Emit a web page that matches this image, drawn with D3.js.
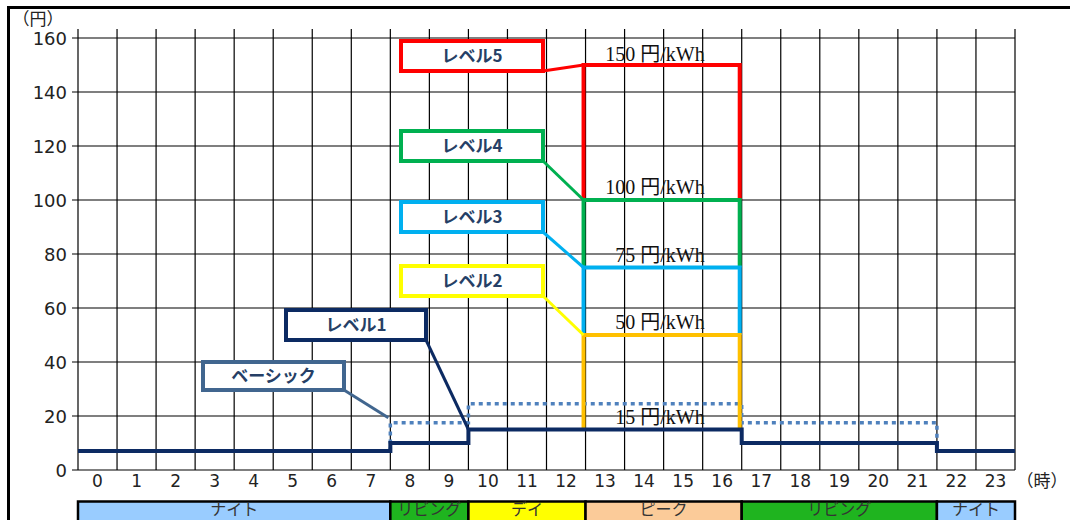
<!DOCTYPE html>
<html>
<head>
<meta charset="utf-8">
<script src="https://cdn.jsdelivr.net/npm/d3@7"></script>
<style>
  body { margin: 0; background: #fff; }
  svg { display: block; }
</style>
</head>
<body>
<svg id="chart" width="1070" height="520"></svg>
<script>
// ---- data ----
const hourLabels = ["0","1","2","3","4","5","6","7","8","9","10","11","12","13","14","15","16","17","18","19","20","21","22","23"];
// price per hour (円/kWh)
const basicPrice  = [7,7,7,7,7,7,7,7, 17.5,17.5, 24.5,24.5,24.5,24.5,24.5,24.5,24.5, 17.5,17.5,17.5,17.5,17.5, 7,7];
const level1Price = [7,7,7,7,7,7,7,7, 10,10, 15,15,15,15,15,15,15, 10,10,10,10,10, 7,7];
// peak-time prices for levels 2..5 (hours 13-16)
const levelNames  = ["レベル2","レベル3","レベル4","レベル5"];
const levelPrices = [50, 75, 100, 150];
const levelFrom   = [15, 50, 75, 100];
const peakHours   = [13, 17];
const priceLabels = [15, 50, 75, 100, 150];
const yTicks = [0, 20, 40, 60, 80, 100, 120, 140, 160];
const periodNames  = ["ナイト", "リビング", "デイ", "ピーク", "リビング", "ナイト"];
const periodStarts = [0, 8, 10, 13, 17, 22];
const periodEnds   = [8, 10, 13, 17, 22, 24];

// ---- styles ----
const periodColors = ["#99CCFF", "#1FB41F", "#FFFF00", "#FBCB99", "#1FB41F", "#99CCFF"];
const levelLineColors = ["#FFC000", "#00B0F0", "#00B050", "#FF0000"];
const levelBoxColors  = ["#FFFF00", "#00B0F0", "#00B050", "#FF0000"];
const navy = "#0C2A62";
const basicBlue = "#4F81BD";
const basicBox = "#41668F";
const labelText = "#263F66";
const gothic = "'Noto Sans CJK JP', 'Noto Sans', sans-serif";
const serif = "'Liberation Serif', 'Noto Sans CJK JP', serif";

const svg = d3.select("#chart");

// outer frame (continues past the right and bottom edges)
svg.append("rect")
  .attr("x", 8.5).attr("y", 7.5).attr("width", 1100).attr("height", 560)
  .attr("fill", "none").attr("stroke", "#000").attr("stroke-width", 3);

const x = d3.scaleLinear().domain([0, 24]).range([78, 1015]);
const y = d3.scaleLinear().domain([0, 160]).range([470, 38]);
const yTop = y(163.3);

// ---- grid ----
const grid = svg.append("g").attr("stroke", "#000").attr("stroke-width", 1.2);
grid.selectAll("line.v").data(d3.range(25)).join("line")
  .attr("class", "v")
  .attr("x1", d => x(d)).attr("x2", d => x(d))
  .attr("y1", yTop).attr("y2", y(0));
grid.selectAll("line.h").data(yTicks).join("line")
  .attr("class", "h")
  .attr("x1", x(0) - 6).attr("x2", x(24))
  .attr("y1", d => y(d)).attr("y2", d => y(d));

// y tick labels
svg.append("g").selectAll("text").data(yTicks).join("text")
  .attr("x", 67).attr("y", d => y(d) + 7)
  .attr("text-anchor", "end")
  .attr("font-family", "'DejaVu Sans', sans-serif").attr("font-size", 18)
  .attr("fill", "#222")
  .text(d => d);

// x tick labels
svg.append("g").selectAll("text").data(hourLabels).join("text")
  .attr("x", (d, i) => x(i + 0.5)).attr("y", 487)
  .attr("text-anchor", "middle")
  .attr("font-family", "'DejaVu Sans', sans-serif").attr("font-size", 17)
  .attr("fill", "#222")
  .text(d => d);

// unit labels
svg.append("text").attr("x", 38).attr("y", 25).attr("text-anchor", "middle")
  .attr("font-family", gothic).attr("font-size", 17).attr("fill", "#222").text("（円）");
svg.append("text").attr("x", 1042).attr("y", 487).attr("text-anchor", "middle")
  .attr("font-family", gothic).attr("font-size", 17).attr("fill", "#222").text("（時）");

// ---- price lines ----
const stepLine = d3.line()
  .x(d => x(d[0])).y(d => y(d[1]))
  .curve(d3.curveStepAfter);
const stepPoints = arr => arr.map((v, i) => [i, v]).concat([[arr.length, arr[arr.length - 1]]]);

svg.append("path")
  .attr("d", stepLine(stepPoints(basicPrice)))
  .attr("fill", "none").attr("stroke", basicBlue)
  .attr("stroke-width", 3.5).attr("stroke-dasharray", "4,4");

// peak-level brackets, drawn from the top level down
const inset = 2;
levelPrices.map((p, i) => i).reverse().forEach(i => {
  const x0 = x(peakHours[0]) - inset, x1 = x(peakHours[1]) - inset;
  const p = d3.path();
  p.moveTo(x0, y(levelFrom[i]));
  p.lineTo(x0, y(levelPrices[i]));
  p.lineTo(x1, y(levelPrices[i]));
  p.lineTo(x1, y(levelFrom[i]));
  svg.append("path").attr("d", p.toString())
    .attr("fill", "none").attr("stroke", levelLineColors[i])
    .attr("stroke-width", 4).attr("stroke-linejoin", "miter");
});

svg.append("path")
  .attr("d", stepLine(stepPoints(level1Price)))
  .attr("fill", "none").attr("stroke", navy)
  .attr("stroke-width", 4);

// price value labels
svg.append("g").selectAll("text").data(priceLabels).join("text")
  .attr("x", x(16) + 2).attr("y", d => y(d) - (d === 150 ? 4 : 6))
  .attr("text-anchor", "end")
  .attr("font-family", serif).attr("font-size", 20).attr("fill", "#111")
  .text(d => d + " 円/kWh");

// ---- callouts ----
function callout(name, bx, by, bw, bh, color, tx, ty) {
  const g = svg.append("g");
  g.append("line")
    .attr("x1", bx + bw).attr("y1", by + bh).attr("x2", tx).attr("y2", ty)
    .attr("stroke", color).attr("stroke-width", 3);
  g.append("rect")
    .attr("x", bx).attr("y", by).attr("width", bw).attr("height", bh)
    .attr("fill", "#fff").attr("stroke", color).attr("stroke-width", 4);
  g.append("text")
    .attr("x", bx + bw / 2).attr("y", by + bh / 2 + 6)
    .attr("text-anchor", "middle")
    .attr("font-family", gothic).attr("font-weight", "bold").attr("font-size", 17)
    .attr("fill", labelText)
    .text(name);
}

const levelBoxY = [281, 217, 146, 56]; // vertical centres of the level boxes
levelNames.forEach((n, i) => {
  callout(n, 401, levelBoxY[i] - 15, 142, 30, levelBoxColors[i],
    x(peakHours[0]) - inset, y(levelPrices[i]));
});
callout("レベル1", 286, 310, 140, 30, navy, x(10), y(level1Price[10]));
callout("ベーシック", 203, 362, 141, 28, basicBox, x(8) - 2, y(basicPrice[8]) - 5);

// ---- time-of-day band ----
const band = svg.append("g");
const bandY = 501.5, bandH = 30;
band.selectAll("rect").data(periodNames).join("rect")
  .attr("x", (d, i) => x(periodStarts[i])).attr("y", bandY)
  .attr("width", (d, i) => x(periodEnds[i]) - x(periodStarts[i])).attr("height", bandH)
  .attr("fill", (d, i) => periodColors[i])
  .attr("stroke", "#000").attr("stroke-width", 2.5);
band.selectAll("text").data(periodNames).join("text")
  .attr("x", (d, i) => x((periodStarts[i] + periodEnds[i]) / 2)).attr("y", 515)
  .attr("text-anchor", "middle")
  .attr("font-family", gothic).attr("font-size", 16).attr("fill", "#333")
  .text(d => d);
</script>
</body>
</html>
